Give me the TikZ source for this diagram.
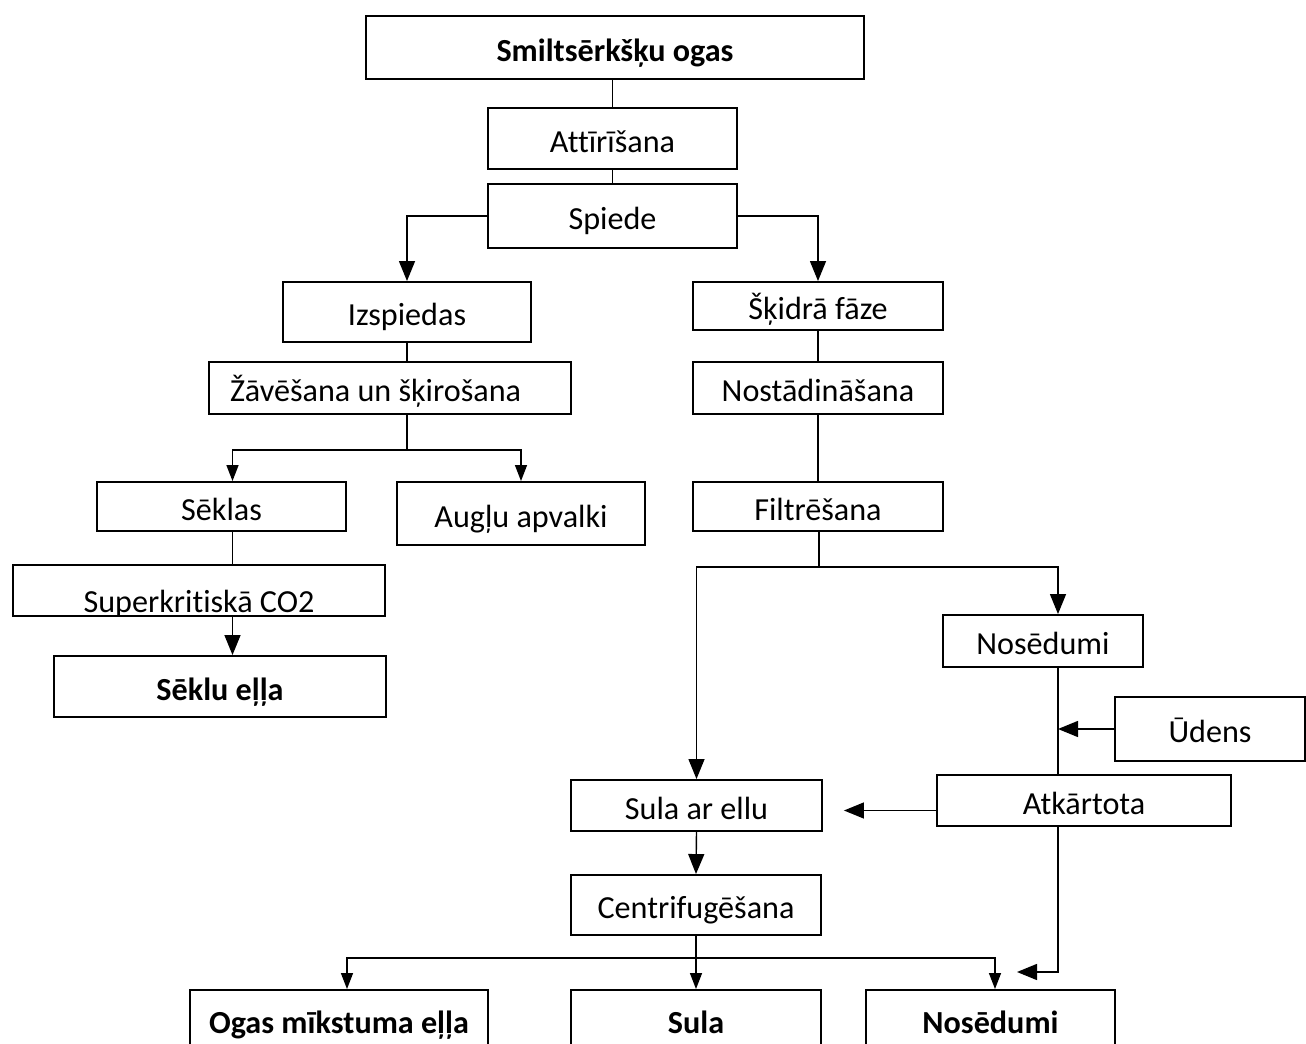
\documentclass[tikz,border=0pt]{standalone}
\usepackage{fontspec}
\setmainfont{Carlito}[Ligatures=NoCommon]
\usetikzlibrary{arrows.meta, positioning}

\begin{document}
\begin{tikzpicture}[
    x=0.02cm, y=-0.02cm,
    font=\fontsize{18.3}{22}\selectfont,
    box/.style={rectangle, draw, line width=1.1pt, inner sep=0pt, align=center,
                text height=16.5pt, text depth=1pt},
    key/.style={box, font=\fontsize{18.3}{22}\selectfont\bfseries},
    line/.style={line width=0.8pt},
    arr/.style={line, -{Triangle[width=0.32cm, length=0.4cm]}},
    arrsm/.style={line, -{Triangle[width=0.24cm, length=0.32cm]}}
]
\useasboundingbox (0,0) rectangle (1306,1044);

% top of the process
\node[key, minimum width=9.96cm, minimum height=1.26cm] (berries) at (615,47.5) {Smiltsērkšķu ogas};
\node[box, minimum width=4.98cm, minimum height=1.22cm] (clean) at (612.5,138.5) {Attīrīšana};
\node[box, minimum width=4.98cm, minimum height=1.28cm] (press) at (612.5,216) {Spiede};

% left branch
\node[box, minimum width=4.96cm, minimum height=1.2cm] (cake) at (407,312) {Izspiedas};
\node[box, minimum width=7.24cm, minimum height=1.04cm, text width=6.4cm, align=flush left, inner xsep=0.42cm] (dry) at (390,388) {Žāvēšana un šķirošana};
\node[box, minimum width=4.98cm, minimum height=0.98cm] (seeds) at (221.5,506.5) {Sēklas};
\node[box, minimum width=4.96cm, minimum height=1.26cm] (peel) at (521,513.5) {Augļu apvalki};
\node[box, minimum width=7.44cm, minimum height=1.02cm,
      path picture={\node[anchor=base, inner sep=0pt] (co2text) at ([yshift=0.06cm]path picture bounding box.south) {Superkritiskā CO2};}]
      (co2) at (199,590.5) {};
\node[key, minimum width=6.64cm, minimum height=1.22cm] (seedoil) at (220,686.5) {Sēklu eļļa};

% right branch
\node[box, minimum width=5cm, minimum height=0.96cm] (liquid) at (818,306) {Šķidrā fāze};
\node[box, minimum width=5cm, minimum height=1.04cm] (settle) at (818,388) {Nostādināšana};
\node[box, minimum width=5cm, minimum height=0.98cm] (filter) at (818,506.5) {Filtrēšana};
\node[box, minimum width=4cm, minimum height=1.04cm] (sludge) at (1043,641) {Nosēdumi};
\node[box, minimum width=3.8cm, minimum height=1.28cm] (water) at (1210,729) {Ūdens};
\node[box, minimum width=5.88cm, minimum height=1.02cm] (repeat) at (1084,800.5) {Atkārtota};
\node[box, minimum width=5.02cm, minimum height=1.02cm] (juiceoil) at (696.5,805.5) {Sula ar ellu};
\node[box, minimum width=5cm, minimum height=1.2cm] (centri) at (696,905) {Centrifugēšana};

% products
\node[key, minimum width=5.96cm, minimum height=1.2cm] (pulpoil) at (339,1020) {Ogas mīkstuma eļļa};
\node[key, minimum width=5cm, minimum height=1.2cm] (juice) at (696,1020) {Sula};
\node[key, minimum width=4.98cm, minimum height=1.2cm] (sediment) at (990.5,1020) {Nosēdumi};

% connectors
\draw[line] (berries.south -| clean.north) -- (clean.north);
\draw[line] (clean.south) -- (press.north);
\draw[arr] (press.west) -| (cake.north);
\draw[arr] (press.east) -| (liquid.north);

\draw[line] (cake.south) -- (cake.south |- dry.north);
\coordinate (drysplit) at (407,450);
\draw[line] (cake.south |- dry.south) -- (drysplit);
\draw[arrsm] (drysplit) -| ([xshift=0.22cm]seeds.north);
\draw[arrsm] (drysplit) -| (peel.north);
\draw[line] ([xshift=0.22cm]seeds.south) -- ([xshift=0.22cm]seeds.south |- co2.north);
\draw[arr] ([xshift=0.22cm]seeds.south |- co2.south) -- ([xshift=0.22cm]seeds.south |- seedoil.north);

\draw[line] (liquid.south) -- (settle.north);
\draw[line] (settle.south) -- (filter.north);
\coordinate (filtsplit) at (819,567);
\coordinate (recyc) at (1058,567);
\draw[line] (filter.south -| filtsplit) -- (filtsplit);
\draw[arr] (filtsplit) -| (juiceoil.north);
\draw[arr] (filtsplit) -- (recyc) -- (recyc |- sludge.north);
\draw[line] (recyc |- sludge.south) -- (recyc |- repeat.north);
\draw[arr] (water.west) -- (water.west -| recyc);
\draw[arr] ([yshift=-0.2cm]repeat.west) -- ([xshift=0.42cm,yshift=-0.2cm]repeat.west -| juiceoil.east);
\coordinate (back) at (1058,972);
\draw[arr] (recyc |- repeat.south) -- (back) -- ++(-41,0);

\draw[arr] (juiceoil.south) -- (centri.north);
\coordinate (centsplit) at (696,958);
\draw[line] (centri.south) -- (centsplit);
\draw[arrsm] (centsplit) -| ([xshift=0.16cm]pulpoil.north);
\draw[arrsm] (centsplit) -- (centsplit |- juice.north);
\draw[arrsm] (centsplit) -| ([xshift=0.09cm]sediment.north);
\end{tikzpicture}
\end{document}
